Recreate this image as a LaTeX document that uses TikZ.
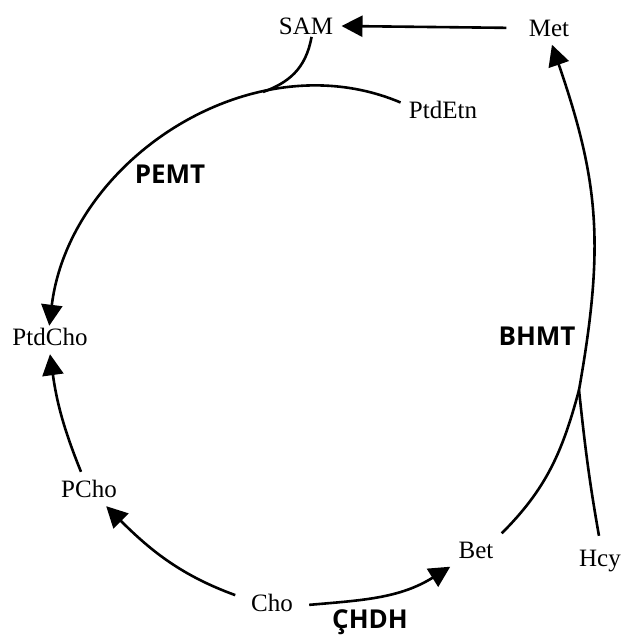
\documentclass[tikz,border=0pt]{standalone}
\usepackage{fontspec}
\setmainfont{Liberation Serif}
\newfontfamily\enzfont{Open Sans}
\usetikzlibrary{arrows.meta}

\begin{document}
\begin{tikzpicture}[x=0.5pt, y=0.5pt,
  met/.style={font=\fontsize{12.5}{15}\selectfont, inner sep=4pt},
  enz/.style={font=\enzfont\bfseries\fontsize{13}{15}\selectfont},
  lin/.style={line width=1.3pt},
  arr/.style={line width=1.3pt, -{Triangle[length=10.5pt,width=10.5pt]}}]
\useasboundingbox (0,0) rectangle (620,-635);

\node[met] (SAM) at (306,-26) {SAM};
\node[met] (Met) at (549,-28) {Met};
\node[met] (PtdEtn) at (443,-110) {PtdEtn};
\node[met] (PtdCho) at (50,-337) {PtdCho};
\node[met] (PCho) at (89,-489) {PCho};
\node[met] (Cho) at (272,-603) {Cho};
\node[met] (Bet) at (476,-550) {Bet};
\node[met] (Hcy) at (600,-561) {Hcy};

\node[enz] (PEMT) at (170,-174) {PEMT};
\node[enz] (BHMT) at (537,-336) {BHMT};
\node[enz] (CHDH) at (370,-622) {ÇHDH};

\coordinate (merge) at (263,-92);
\coordinate (join) at (579,-390);

\draw[arr, shorten <=7pt] (Met.west) -- (SAM.east);
\draw[lin, shorten <=-3pt] (SAM.-75) to[out=-100,in=20] (merge);
\draw[arr, shorten >=-3pt] (PtdEtn.170) to[out=157,in=83] (PtdCho.north);
\draw[arr] (PCho.115) to[out=112,in=-82] (PtdCho.south);
\draw[arr, shorten <=4pt] (Cho.170) to[out=160,in=-45] (PCho.-45);
\draw[arr, shorten <=4pt] (Cho.-5) to[out=5,in=-148] (Bet.south west);
\draw[lin] (Bet.north east) to[out=45,in=-105] (join);
\draw[arr] (join) to[out=80,in=-71,looseness=1.08] (Met.-80);
\draw[lin, shorten <=3pt] (Hcy.north) to[out=100,in=-84] (join);

\end{tikzpicture}
\end{document}
